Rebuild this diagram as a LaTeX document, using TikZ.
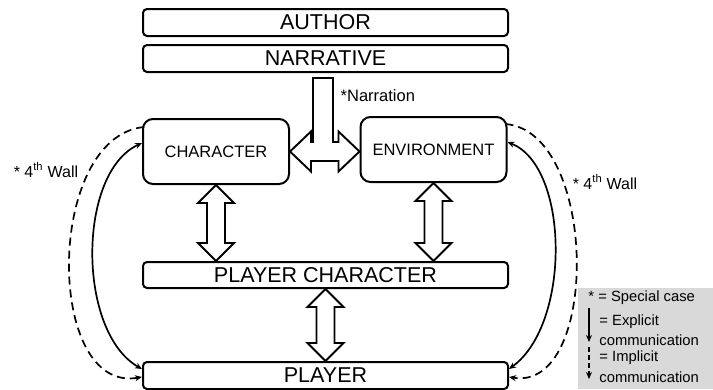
\documentclass[tikz,border=0pt]{standalone}
\usepackage{fontspec}
\setmainfont{Liberation Sans}
\usetikzlibrary{positioning, calc, arrows.meta}

% outlined double arrow between two points on one vertical
\newcommand{\fatarrow}[2]{%
  \draw[fat] let \p1=(#1), \p2=(#2) in
    (\x1,\y1) -- (\x1+18pt,\y1-18pt) -- (\x1+9pt,\y1-18pt) -- (\x1+9pt,\y2+18pt)
    -- (\x1+18pt,\y2+18pt) -- (\x1,\y2) -- (\x1-18pt,\y2+18pt) -- (\x1-9pt,\y2+18pt)
    -- (\x1-9pt,\y1-18pt) -- (\x1-18pt,\y1-18pt) -- cycle;}

\begin{document}
\begin{tikzpicture}[x=1pt, y=-1pt, thick,
    wide/.style={draw, rounded corners=4pt, line width=2pt, minimum width=365pt, minimum height=27pt, inner sep=0pt, font=\fontsize{21.5}{24}\selectfont},
    actor/.style={draw, rounded corners=10pt, line width=2pt, minimum width=146pt, minimum height=65pt, font=\fontsize{16.5}{19}\selectfont},
    fat/.style={draw, fill=white, line width=1.9pt, line join=miter},
    expl/.style={line width=1.7pt, >={Stealth[length=7pt,width=6pt]}},
    impl/.style={expl, dash pattern=on 8pt off 5pt},
    note/.style={font=\fontsize{16}{19}\selectfont},
    legend/.style={anchor=west, inner sep=0pt, font=\fontsize{14.8}{16}\selectfont}]
    \useasboundingbox (0,0) rectangle (713,389);

    % Layers
    \node[wide] (author) at (325.5,22.5) {AUTHOR};
    \node[wide, below=7pt of author] (narr) {NARRATIVE};
    \node[actor] (char) at (216,151.5) {CHARACTER};
    \node[actor] (env) at (433.5,149.5) {ENVIRONMENT};
    \node[wide, minimum height=26pt] (pc) at (325.5,275) {PLAYER CHARACTER};
    \node[wide, below=72pt of pc] (player) {PLAYER};

    % Narration
    \draw[fat] let \p1=([xshift=-2.5pt,yshift=-5pt]narr.south), \p2=(char.east), \p3=(env.west) in
        (\x1-10pt,\y1) -- (\x1-10pt,\y2+9.5pt) -- (\x2+21pt,\y2+9.5pt) -- (\x2+21pt,\y2+20pt)
        -- (\x2,\y2) -- (\x2+21pt,\y2-20pt) -- (\x2+21pt,\y2-9.5pt) -- (\x3-21pt,\y2-9.5pt)
        -- (\x3-21pt,\y2-20pt) -- (\x3,\y2) -- (\x3-21pt,\y2+20pt) -- (\x3-21pt,\y2+9.5pt)
        -- (\x1+10pt,\y2+9.5pt) -- (\x1+10pt,\y1) -- cycle;
    \node[note, anchor=west, font=\fontsize{16.5}{19}\selectfont] (narration) at (337,96) {*Narration};

    \fatarrow{char.south}{char.south |- pc.north}
    \fatarrow{env.south}{env.south |- pc.north}
    \fatarrow{pc.south}{player.north}

    % 4th wall
    \draw[impl, ->] ($(char.north west)+(2,9)$) .. controls +(-99,10) and +(-97,17) .. ($(player.west)+(0,1.5)$);
    \draw[expl, <->] ($(char.west)+(0,-8.5)$) .. controls +(-65,30) and +(-65,-37) .. ($(player.west)+(0,-6.5)$);
    \draw[impl, ->] ($(env.north east)+(-2,8)$) .. controls +(93,8) and +(91,15) .. ($(player.east)+(0,1.5)$);
    \draw[expl, <->] ($(env.east)+(0,-7.5)$) .. controls +(62,25) and +(62,-45) .. ($(player.east)+(0,-6.5)$);
    \node[note] (wallL) at (46,170) {* 4\textsuperscript{th} Wall};
    \node[note] (wallR) at (605,182) {* 4\textsuperscript{th} Wall};

    % Legend
    \node[fill=black!15, minimum width=135pt, minimum height=101pt, inner sep=0pt, anchor=north west] (key) at (578,288) {};
    \node[legend] (special) at (588,298) {* = Special case};
    \node[legend] (explA) at (599,322) {= Explicit};
    \node[legend] (explB) at (599,340) {communication};
    \node[legend] (implA) at (599,358) {= Implicit};
    \node[legend] (implB) at (599,377) {communication};
    \coordinate (e1) at (589,308);
    \coordinate (e2) at (589,342);
    \coordinate (i1) at (589,347);
    \coordinate (i2) at (589,379);
    \draw[expl, ->] (e1) -- (e2);
    \draw[expl, dash pattern=on 5pt off 3pt, ->] (i1) -- (i2);

\end{tikzpicture}
\end{document}
